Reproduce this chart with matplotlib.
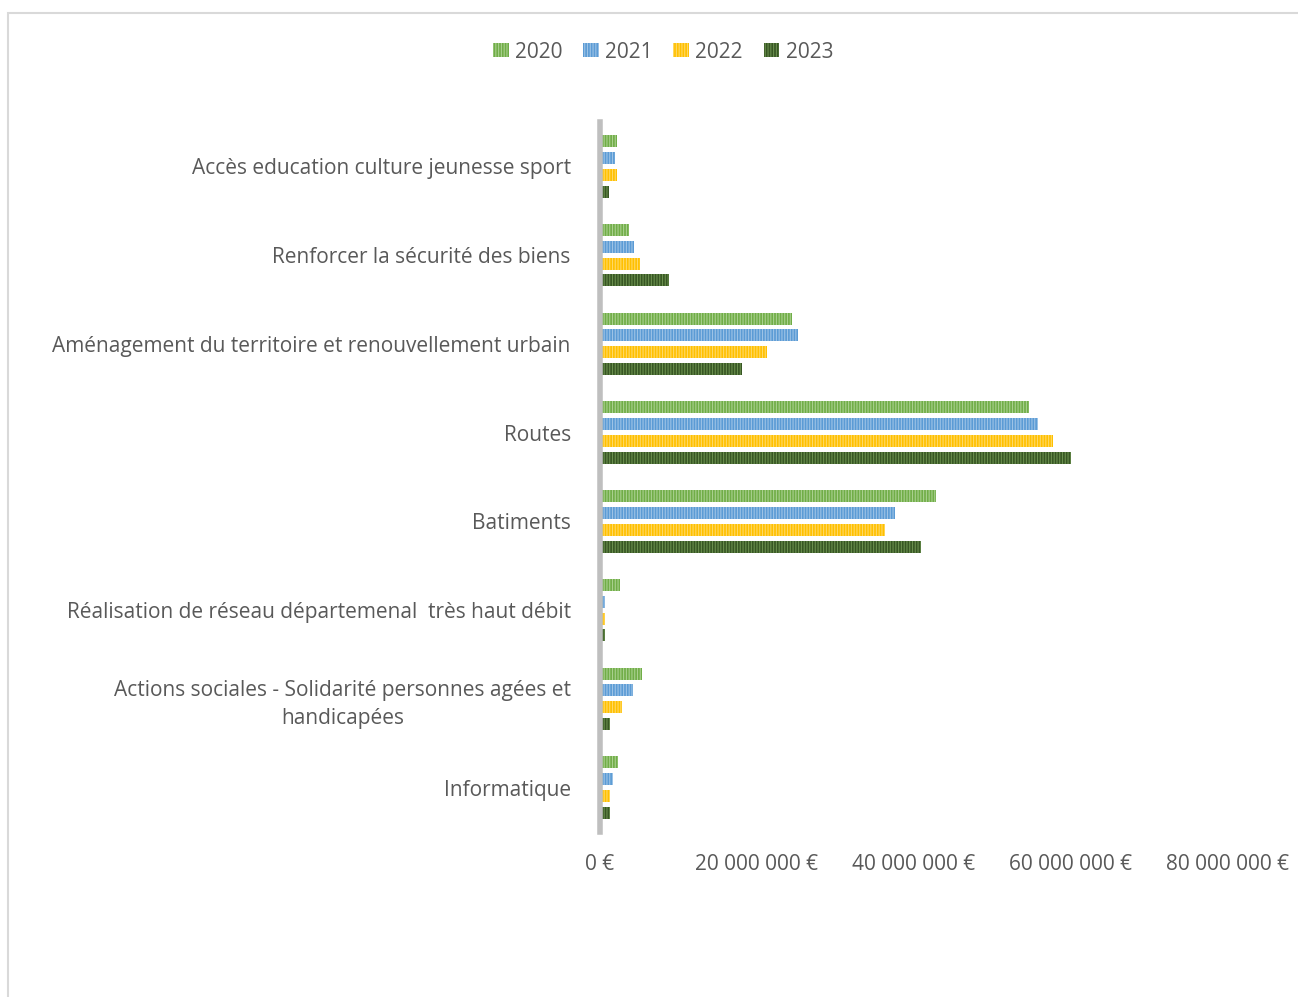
import numpy as np
import matplotlib
matplotlib.use("Agg")
import matplotlib.pyplot as plt
from matplotlib.patches import Rectangle
from matplotlib.ticker import FuncFormatter

plt.rcParams["font.family"] = ["Open Sans", "DejaVu Sans"]
plt.rcParams["hatch.linewidth"] = 0.8

categories = [
    "Accès education culture jeunesse sport",
    "Renforcer la sécurité des biens",
    "Aménagement du territoire et renouvellement urbain",
    "Routes",
    "Batiments",
    "Réalisation de réseau départemenal  très haut débit",
    "Actions sociales - Solidarité personnes agées et\nhandicapées",
    "Informatique",
]
years = ["2020", "2021", "2022", "2023"]
v2020 = [2.2e6, 3.7e6, 24.5e6, 54.8e6, 42.9e6, 2.5e6, 5.4e6, 2.3e6]
v2021 = [1.9e6, 4.3e6, 25.2e6, 55.9e6, 37.6e6, 0.7e6, 4.2e6, 1.6e6]
v2022 = [2.2e6, 5.1e6, 21.3e6, 57.8e6, 36.3e6, 0.6e6, 2.8e6, 1.3e6]
v2023 = [1.1e6, 8.8e6, 18.1e6, 60.1e6, 41.0e6, 0.6e6, 1.3e6, 1.3e6]
series = [v2020, v2021, v2022, v2023]

colors = ["#70AD47", "#5B9BD5", "#FFC000", "#375623"]
hatch_colors = ["#A9D08E", "#9DC3E6", "#FFD966", "#6A8F4E"]
text_color = "#595959"

fig = plt.figure(figsize=(12.98, 9.97), dpi=100)
fig.patches.append(Rectangle((8 / 1298, -0.1), 1.2, (1 - 13 / 997) + 0.1,
                             transform=fig.transFigure, facecolor="none",
                             edgecolor="#D9D9D9", linewidth=1.5))
ax = fig.add_axes([600 / 1298, 1 - 832 / 997, (1227 - 600) / 1298, (832 - 122) / 997])

y = np.arange(len(categories))
bh = 0.135
step = 0.19
offsets = [-1.5 * step, -0.5 * step, 0.5 * step, 1.5 * step]
for vals, yr, c, hc, off in zip(series, years, colors, hatch_colors, offsets):
    ax.barh(y + off, vals, height=bh, color=c, edgecolor=hc, linewidth=0,
            hatch="||||||", label=yr)

ax.set_ylim(len(categories) - 0.5, -0.5)
ax.set_xlim(0, 80e6)
ax.set_xticks([0, 20e6, 40e6, 60e6, 80e6])
ax.xaxis.set_major_formatter(FuncFormatter(
    lambda v, p: "0 €" if v == 0 else f"{int(v):,}".replace(",", " ") + " €"))
ax.set_yticks(y)
ax.set_yticklabels(categories, multialignment="center", linespacing=1.4)
ax.tick_params(axis="both", length=0, labelsize=15, labelcolor=text_color)
ax.tick_params(axis="y", pad=21)
ax.tick_params(axis="x", pad=16)
for s in ["top", "right", "bottom"]:
    ax.spines[s].set_visible(False)
ax.spines["left"].set_color("#BFBFBF")
ax.spines["left"].set_linewidth(4)

leg = fig.legend(loc="center", bbox_to_anchor=(663 / 1298, 1 - 52 / 997), ncol=4,
                 frameon=False, fontsize=15, handlelength=0.75, handleheight=0.65,
                 handletextpad=0.3, columnspacing=1.0, labelcolor=text_color)

fig.savefig("out.png", dpi=100, facecolor="white")
